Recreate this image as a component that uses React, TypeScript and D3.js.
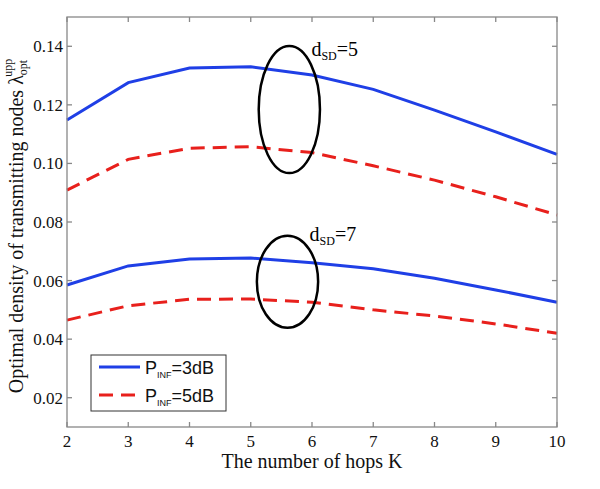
import React from "react";
import * as d3 from "d3";

const hops = [2, 3, 4, 5, 6, 7, 8, 9, 10];
const blueD5 = [0.1148, 0.1276, 0.1326, 0.133, 0.1302, 0.1253, 0.1182, 0.1108, 0.1031];
const redD5 = [0.0909, 0.1014, 0.1052, 0.1057, 0.1037, 0.0992, 0.0943, 0.0886, 0.0824];
const blueD7 = [0.0585, 0.065, 0.0674, 0.0677, 0.0661, 0.064, 0.0608, 0.0568, 0.0526];
const redD7 = [0.0465, 0.0514, 0.0536, 0.0537, 0.0526, 0.05, 0.0479, 0.0452, 0.042];
const yTicks = [0.02, 0.04, 0.06, 0.08, 0.1, 0.12, 0.14];
const legendLabels = [{ p: "P", sub: "INF", rest: "=3dB" }, { p: "P", sub: "INF", rest: "=5dB" }];
// ellipse annotations: center K, center value, half-width in K, half-height in value
const groups = [
  { label: "5", cx: 5.63, cy: 0.1184, rx: 0.5, ry: 0.0217, tx: 5.99, ty: 0.1366 },
  { label: "7", cx: 5.6, cy: 0.0596, rx: 0.5, ry: 0.0157, tx: 5.96, ty: 0.0734 },
];

const W = 600;
const H = 489;
const m = { left: 67, right: 43, top: 17, bottom: 62 };
const serif = "'Liberation Serif', serif";
const sans = "'Liberation Sans', Arial, sans-serif";

export default function App() {
  const x = d3.scaleLinear().domain([2, 10]).range([m.left, W - m.right]);
  const y = d3.scaleLinear().domain([0.01, 0.15]).range([H - m.bottom, m.top]);
  const line = d3
    .line<number>()
    .x((d, i) => x(hops[i]))
    .y((d) => y(d));
  const axisColor = "#888";
  const x0 = x(2), x1 = x(10), y0 = y(0.01), y1 = y(0.15);

  return (
    <svg width={W} height={H} style={{ position: "absolute", left: 0, top: 0, background: "#fff" }}>
      <rect x={0} y={0} width={W} height={H} fill="#fff" />
      {/* data lines */}
      {[blueD5, blueD7].map((s, i) => (
        <path key={"b" + i} d={line(s) || ""} fill="none" stroke="#1f3fe6" strokeWidth={3} />
      ))}
      {[redD5, redD7].map((s, i) => (
        <path key={"r" + i} d={line(s) || ""} fill="none" stroke="#e8201c" strokeWidth={3} strokeDasharray="14,8" />
      ))}
      {/* ellipses and labels */}
      {groups.map((g) => (
        <g key={g.label}>
          <ellipse
            cx={x(g.cx)}
            cy={y(g.cy)}
            rx={x(g.cx + g.rx) - x(g.cx)}
            ry={y(g.cy) - y(g.cy + g.ry)}
            fill="none"
            stroke="#000"
            strokeWidth={2.5}
          />
          <text x={x(g.tx)} y={y(g.ty)} fontFamily={serif} fontSize={20}>
            d<tspan fontSize={12} dy={4}>SD</tspan>
            <tspan dy={-4}>={g.label}</tspan>
          </text>
        </g>
      ))}
      {/* axes box */}
      <rect x={x0} y={y1} width={x1 - x0} height={y0 - y1} fill="none" stroke={axisColor} strokeWidth={1.3} />
      {hops.map((k) => (
        <g key={"xt" + k}>
          <line x1={x(k)} x2={x(k)} y1={y0} y2={y0 - 5} stroke={axisColor} strokeWidth={1.3} />
          <line x1={x(k)} x2={x(k)} y1={y1} y2={y1 + 5} stroke={axisColor} strokeWidth={1.3} />
          <text x={x(k)} y={y0 + 20} textAnchor="middle" fontFamily={serif} fontSize={17} fill="#111">
            {k}
          </text>
        </g>
      ))}
      {yTicks.map((v) => (
        <g key={"yt" + v}>
          <line x1={x0} x2={x0 + 5} y1={y(v)} y2={y(v)} stroke={axisColor} strokeWidth={1.3} />
          <line x1={x1} x2={x1 - 5} y1={y(v)} y2={y(v)} stroke={axisColor} strokeWidth={1.3} />
          <text x={x0 - 4} y={y(v) + 6} textAnchor="end" fontFamily={serif} fontSize={17} fill="#111">
            {d3.format(".2f")(v)}
          </text>
        </g>
      ))}
      {/* axis labels */}
      <text x={(x0 + x1) / 2} y={468} textAnchor="middle" fontFamily={serif} fontSize={20} fill="#111">
        The number of hops K
      </text>
      <text
        transform={`translate(23, 226) rotate(-90)`}
        textAnchor="middle"
        fontFamily={serif}
        fontSize={20}
        fill="#111"
      >
        Optimal density of transmitting nodes λ
        <tspan fontSize={12} dy={4}>opt</tspan>
        <tspan fontSize={12} dx={-17} dy={-15}>upp</tspan>
      </text>
      {/* legend */}
      <g transform="translate(91,355)">
        <rect x={0} y={0} width={135} height={56} fill="#fff" stroke="#333" strokeWidth={1} />
        {legendLabels.map((l, i) => (
          <g key={i} transform={`translate(0, ${12 + i * 28})`}>
            <line
              x1={8}
              x2={49}
              y1={0}
              y2={0}
              stroke={i === 0 ? "#1f3fe6" : "#e8201c"}
              strokeWidth={3}
              strokeDasharray={i === 0 ? undefined : "14,8"}
            />
            <text x={54} y={7} fontFamily={sans} fontSize={18} fill="#111">
              {l.p}
              <tspan fontSize={9} dy={4}>{l.sub}</tspan>
              <tspan dy={-4}>{l.rest}</tspan>
            </text>
          </g>
        ))}
      </g>
    </svg>
  );
}
